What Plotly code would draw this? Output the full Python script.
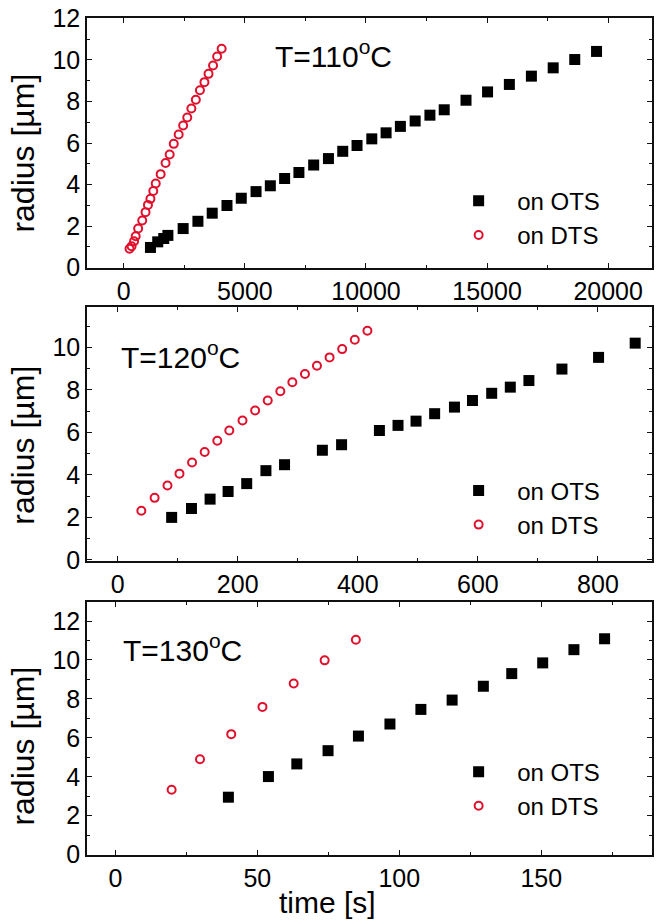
import plotly.graph_objects as go

FONT = "Liberation Sans, Arial, sans-serif"
RED = "#e0102c"

# ---- Panel 1: T = 110 C ----
t110_ots = [1100, 1400, 1650, 1820, 2450, 3060, 3650, 4260, 4850, 5460, 6050, 6640, 7230, 7840,
            8450, 9040, 9630, 10240, 10830, 11420, 12030, 12640, 13230, 14130, 15020, 15920,
            16830, 17730, 18620, 19520]
r110_ots = [0.97, 1.24, 1.4, 1.55, 1.88, 2.23, 2.62, 2.99, 3.34, 3.66, 3.94, 4.29, 4.58, 4.94,
            5.25, 5.6, 5.88, 6.2, 6.49, 6.8, 7.06, 7.34, 7.6, 8.06, 8.46, 8.82, 9.22, 9.62,
            10.02, 10.41]
t110_dts = [237, 321, 423, 490, 592, 760, 896, 997, 1099, 1217, 1318, 1521, 1724, 1893, 2062,
            2265, 2450, 2620, 2789, 2974, 3143, 3329, 3498, 3684, 3853, 4039]
r110_dts = [0.91, 1.03, 1.27, 1.51, 1.88, 2.27, 2.67, 3.02, 3.31, 3.69, 4.05, 4.5, 5.04, 5.45,
            5.96, 6.41, 6.84, 7.23, 7.66, 8.08, 8.54, 8.93, 9.33, 9.73, 10.17, 10.54]

# ---- Panel 2: T = 120 C ----
t120_ots = [90, 123, 154, 184, 215, 247, 278, 341, 373, 436, 467, 497, 528, 561, 591, 623, 654,
            685, 740, 801, 862]
r120_ots = [2.0, 2.42, 2.86, 3.22, 3.59, 4.2, 4.48, 5.16, 5.42, 6.09, 6.33, 6.53, 6.88, 7.19,
            7.5, 7.84, 8.13, 8.44, 8.98, 9.53, 10.2]
t120_dts = [39.5, 61.6, 83, 103, 124, 145, 166, 186, 208, 229, 250, 271, 291, 312, 332, 353,
            374, 395, 416]
r120_dts = [2.31, 2.92, 3.5, 4.06, 4.58, 5.08, 5.61, 6.09, 6.56, 7.03, 7.5, 7.94, 8.36, 8.75,
            9.14, 9.53, 9.92, 10.36, 10.78]

# ---- Panel 3: T = 130 C ----
t130_ots = [39.8, 53.9, 63.9, 74.9, 85.6, 96.7, 107.6, 118.6, 129.6, 139.6, 150.5, 161.5, 172.3]
r130_ots = [2.95, 4.01, 4.66, 5.34, 6.09, 6.71, 7.46, 7.94, 8.65, 9.3, 9.85, 10.53, 11.09]
t130_dts = [19.8, 29.8, 40.8, 51.8, 62.8, 73.7, 84.7]
r130_dts = [3.33, 4.9, 6.19, 7.59, 8.79, 9.98, 11.04]

panel_labels = ["T=110<sup>o</sup>C", "T=120<sup>o</sup>C", "T=130<sup>o</sup>C"]
series_names = ["on OTS", "on DTS"]

fig = go.Figure()

panels = [
    (t110_ots, r110_ots, t110_dts, r110_dts, "x", "y", "legend"),
    (t120_ots, r120_ots, t120_dts, r120_dts, "x2", "y2", "legend2"),
    (t130_ots, r130_ots, t130_dts, r130_dts, "x3", "y3", "legend3"),
]
for xo, yo, xd, yd, xa, ya, lg in panels:
    fig.add_trace(go.Scatter(x=xo, y=yo, mode="markers", name=series_names[0], xaxis=xa, yaxis=ya,
                             legend=lg, cliponaxis=False,
                             marker=dict(symbol="square", size=11, color="black",
                                         line=dict(width=0))))
    fig.add_trace(go.Scatter(x=xd, y=yd, mode="markers", name=series_names[1], xaxis=xa, yaxis=ya,
                             legend=lg, cliponaxis=False,
                             marker=dict(symbol="circle-open", size=8, color=RED,
                                         line=dict(width=2, color=RED))))

axis_common = dict(showline=True, linecolor="#111", linewidth=1.5, mirror="ticks",
                   ticks="inside", ticklen=5, tickwidth=1.2, tickcolor="#111",
                   showgrid=False, zeroline=False, tickformat="d", ticklabeloverflow="allow",
                   tickfont=dict(family=FONT, size=25, color="black"))

def xax(rng, dtick, minor, anchor):
    d = dict(axis_common)
    d.update(range=rng, dtick=dtick, tick0=0, anchor=anchor, domain=[0, 1],
             minor=dict(ticks="inside", ticklen=3, dtick=minor, tick0=0, tickcolor="#111",
                        tickwidth=1.2, showgrid=False))
    return d

def yax(rng, domain, anchor):
    d = dict(axis_common)
    d.update(range=rng, dtick=2, tick0=0, anchor=anchor, domain=domain,
             minor=dict(ticks="inside", ticklen=3, dtick=1, tick0=0, tickcolor="#111",
                        tickwidth=1.2, showgrid=False))
    return d

def legend_at(y):
    return dict(x=0.625, y=y, xanchor="left", yanchor="top", bgcolor="rgba(0,0,0,0)",
                font=dict(family=FONT, size=24, color="black"), tracegroupgap=0,
                itemwidth=67, borderwidth=0)

fig.update_layout(
    width=656, height=924,
    margin=dict(l=87, r=2, t=18, b=69),
    paper_bgcolor="white", plot_bgcolor="white",
    showlegend=True,
    xaxis=xax([-1520, 21810], 5000, 2500, "y"),
    yaxis=yax([-0.02, 12.02], [0.7013, 1.0], "x"),
    xaxis2=xax([-51, 890], 200, 100, "y2"),
    yaxis2=yax([-0.05, 11.9], [0.3513, 0.6547], "x2"),
    xaxis3=xax([-10, 189], 50, 25, "y3"),
    yaxis3=yax([-0.02, 12.98], [0.0, 0.3023], "x3"),
    legend=legend_at(0.808),
    legend2=legend_at(0.462),
    legend3=legend_at(0.126),
)

annots = []
# panel temperature labels
for lab, xr, yr, xp, yp in [(panel_labels[0], "x domain", "y domain", 0.329, 0.855),
                            (panel_labels[1], "x2 domain", "y2 domain", 0.057, 0.81),
                            (panel_labels[2], "x3 domain", "y3 domain", 0.06, 0.82)]:
    annots.append(dict(text=lab, xref=xr, yref=yr, x=xp, y=yp, xanchor="left", yanchor="middle",
                       showarrow=False, font=dict(family=FONT, size=30, color="black")))
# y titles
for yp in [0.8387, 0.4898, 0.1302]:
    annots.append(dict(text="radius [µm]", xref="paper", yref="paper", x=-0.114, y=yp,
                       xanchor="center", yanchor="middle", textangle=-90, showarrow=False,
                       font=dict(family=FONT, size=32, color="black")))
annots.append(dict(text="time [s]", xref="paper", yref="paper", x=0.425, y=-0.0789,
                   xanchor="center", yanchor="bottom", showarrow=False,
                   font=dict(family=FONT, size=30, color="black")))
fig.update_layout(annotations=annots)

# remove the default 8px page margin so the figure sits at the window's top-left corner
fig.write_html("out.html", config={"displayModeBar": False},
               post_script="document.body.style.margin='0';")
